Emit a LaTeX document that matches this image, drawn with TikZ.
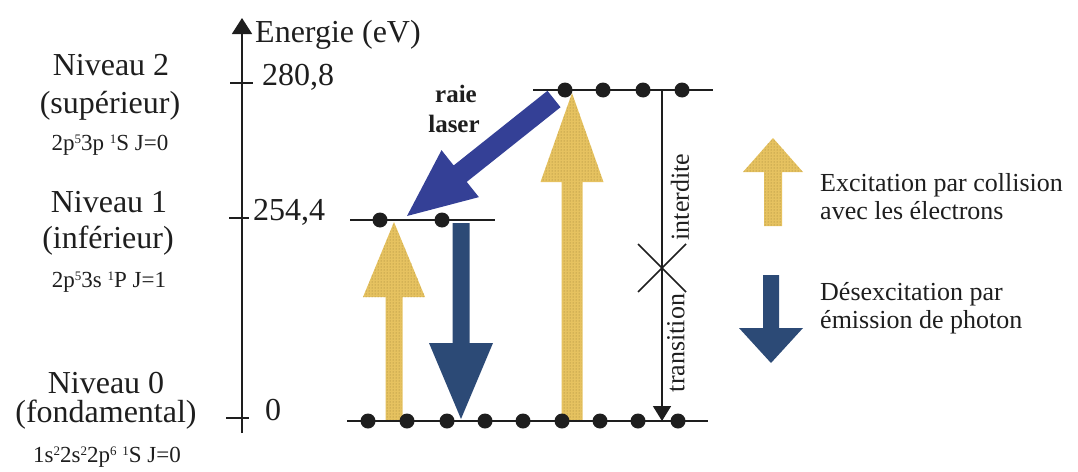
\documentclass[tikz,border=0pt]{standalone}
\usepackage{fontspec}
\setmainfont{Liberation Serif}
\usetikzlibrary{arrows.meta,calc,patterns}
\definecolor{exc}{RGB}{230,194,96}
\definecolor{excdot}{RGB}{150,122,50}
\definecolor{des}{RGB}{44,74,118}
\definecolor{laserc}{RGB}{52,64,150}
\definecolor{ink}{RGB}{30,30,30}
\newcommand\supx[1]{\raisebox{7pt}{\fontsize{13}{13}\selectfont #1}}
\begin{document}
\begin{tikzpicture}[x=1pt,y=-1pt,
  big/.style={font=\fontsize{32}{36}\selectfont, inner sep=0pt, anchor=base, text=ink},
  sub/.style={font=\fontsize{23}{26}\selectfont, inner sep=0pt, anchor=base, text=ink},
  leg/.style={font=\fontsize{26}{28}\selectfont, inner sep=0pt, anchor=base west, text=ink},
  rot/.style={font=\fontsize{26}{28}\selectfont, inner sep=0pt, rotate=90, text=ink},
  lvl/.style={line width=2.4pt, draw=ink},
  edot/.style={circle, fill=ink, minimum size=15pt, inner sep=0pt},
  excfill/.style={fill=exc, postaction={pattern=dots, pattern color=excdot}},
  desfill/.style={fill=des},
  laserfill/.style={fill=laserc},
  tick/.style={line width=1.6pt, draw=ink}]
\useasboundingbox (0,0) rectangle (1078,471);

% ---- energy axis ----
\coordinate (ax0) at (242,433);
\coordinate (ax1) at (242,18);
\draw[line width=1.8pt, ink, -{Triangle[width=20pt,length=16pt]}] (ax0) -- (ax1);
\node[big, anchor=base west] (en) at (255,42) {Energie (eV)};

\coordinate (t2a) at (230,83); \coordinate (t2b) at (253,83);
\coordinate (t1a) at (229,218); \coordinate (t1b) at (249,218);
\coordinate (t0a) at (226,418); \coordinate (t0b) at (249,418);
\draw[tick] (t2a) -- (t2b);
\draw[tick] (t1a) -- (t1b);
\draw[tick] (t0a) -- (t0b);
\node[big, anchor=base west] (v2) at (262,85) {280,8};
\node[big, anchor=base west] (v1) at (253,220) {254,4};
\node[big, anchor=base west] (v0) at (265,420) {0};

% ---- level labels ----
\node[big] (n2a) at (111,75) {Niveau 2};
\node[big] (n2b) at (110,113) {(supérieur)};
\node[sub] (n2c) at (110,150) {2p\supx{5}3p \supx{1}S J=0};
\node[big] (n1a) at (109,212) {Niveau 1};
\node[big] (n1b) at (108,248) {(inférieur)};
\node[sub] (n1c) at (109,287) {2p\supx{5}3s \supx{1}P J=1};
\node[big] (n0a) at (106,393) {Niveau 0};
\node[big] (n0b) at (106,422) {(fondamental)};
\node[sub] (n0c) at (107,462) {1s\supx{2}2s\supx{2}2p\supx{6} \supx{1}S J=0};

% ---- block arrows ----
% excitation 0 -> 1
\path[excfill] (385.5,421)--(402.5,421)--(402.5,297)--(425,297)--(394,222)--(363,297)--(385.5,297)--cycle;
% excitation 0 -> 2
\path[excfill] (561.5,421)--(582.5,421)--(582.5,182)--(603.5,182)--(572,93)--(540.5,182)--(561.5,182)--cycle;
% desexcitation 1 -> 0
\path[desfill] (452.5,223)--(469.5,223)--(469.5,343)--(493,343)--(461,419)--(429,343)--(452.5,343)--cycle;
% laser line 2 -> 1
\coordinate (LT) at (407,216);
\coordinate (LA) at (554,99);
\coordinate (LH) at ($(LT)!68pt!(LA)$);
\path[laserfill] ($(LA)!10.5pt!-90:(LT)$) -- ($(LH)!10.5pt!90:(LA)$) -- ($(LH)!30pt!90:(LA)$) -- (LT)
   -- ($(LH)!30pt!-90:(LA)$) -- ($(LH)!10.5pt!-90:(LA)$) -- ($(LA)!10.5pt!90:(LT)$) -- cycle;
\node[font=\bfseries\fontsize{25}{27}\selectfont, inner sep=0pt, anchor=base, text=ink] (raie) at (456,102) {raie};
\node[font=\bfseries\fontsize{25}{27}\selectfont, inner sep=0pt, anchor=base, text=ink] (laser) at (454,132) {laser};

% ---- levels ----
\coordinate (L2a) at (533,90); \coordinate (L2b) at (713,90);
\coordinate (L1a) at (350,220); \coordinate (L1b) at (495,220);
\coordinate (L0a) at (347,421); \coordinate (L0b) at (708,421);
\draw[lvl] (L2a) -- (L2b);
\draw[lvl] (L1a) -- (L1b);
\draw[lvl] (L0a) -- (L0b);
\foreach \x [count=\i] in {565,603,643,682} \node[edot] (d2\i) at (\x,90) {};
\foreach \x [count=\i] in {380,442} \node[edot] (d1\i) at (\x,220) {};
\foreach \x [count=\i] in {368,407,447,485,523,562,600,638,678} \node[edot] (d0\i) at (\x,421) {};

% ---- forbidden transition ----
\coordinate (ft) at (662,90);
\coordinate (fb) at (662,421);
\draw[line width=1.6pt, ink, -{Triangle[width=18pt,length=15pt]}] (ft) -- (fb);
\coordinate (X) at (662,268);
\draw[line width=1.6pt, ink] ($(X)+(-24,-24)$) -- ($(X)+(24,24)$);
\draw[line width=1.6pt, ink] ($(X)+(-24,24)$) -- ($(X)+(24,-24)$);
\node[rot] (int) at (680,197) {interdite};
\node[rot] (tra) at (676,343) {transition};

% ---- legend ----
\path[excfill] (764,226)--(782,226)--(782,172)--(803,172)--(773,138)--(743,172)--(764,172)--cycle;
\path[desfill] (763,275)--(779,275)--(779,328)--(803,328)--(771,363)--(739,328)--(763,328)--cycle;
\node[leg] (le1) at (820,191) {Excitation par collision};
\node[leg] (le2) at (820,219) {avec les électrons};
\node[leg] (le3) at (820,300) {Désexcitation par};
\node[leg] (le4) at (820,328) {émission de photon};
\end{tikzpicture}
\end{document}
